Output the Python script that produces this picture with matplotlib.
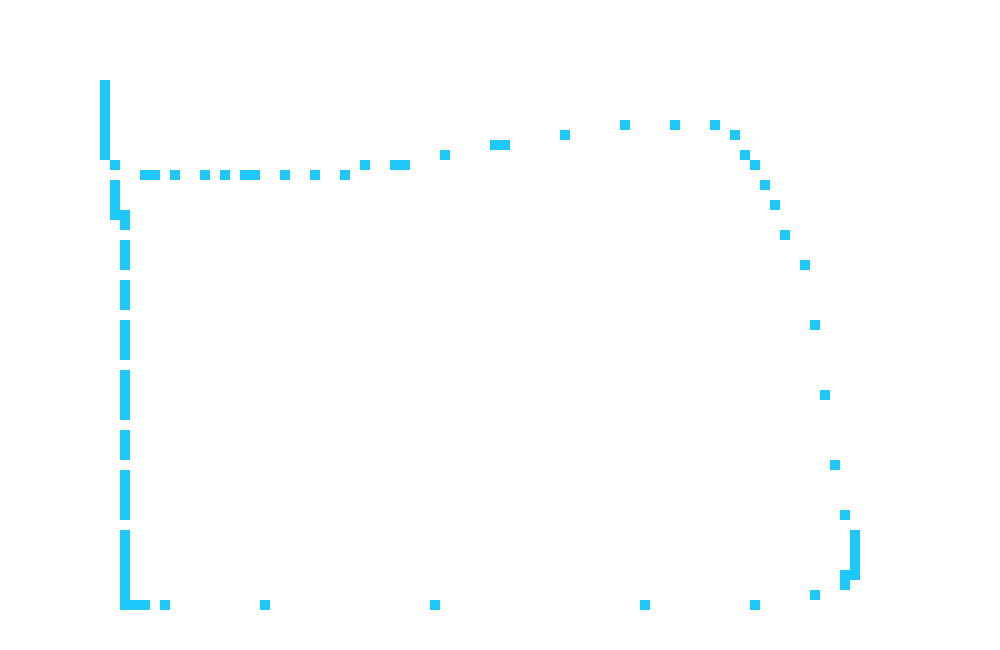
#!/usr/bin/env python3
"""
Pixel trace: filled cells on a 100 x 65 grid, drawn as a two-colour image.
"""

import numpy as np
import matplotlib
matplotlib.use('Agg')
import matplotlib.pyplot as plt
from matplotlib.colors import ListedColormap

N_COLS = 100
N_ROWS = 65
CELL_COLOR = '#1ec8fa'

# left edge, top to bottom
left_rows_12 = [21, 22, 24, 25, 26, 28, 29, 30, 32, 33, 34, 35,
                37, 38, 39, 40, 41, 43, 44, 45, 47, 48, 49, 50, 51,
                53, 54, 55, 56, 57, 58, 59, 60]
left_cols = [10] * 8 + [11] * 5 + [12] * len(left_rows_12) + [13, 14, 16]
left_rows = list(range(8, 16)) + [16, 18, 19, 20, 21] + left_rows_12 + [60, 60, 60]

# bottom edge, left to right
bottom_cols = [26, 43, 64, 75, 81]
bottom_rows = [60, 60, 60, 60, 59]

# right edge, bottom to top
right_cols = [84, 84] + [85] * 5 + [84, 83, 82, 81, 80, 78, 77, 76, 75, 74, 73, 71]
right_rows = [57, 58] + list(range(53, 58)) + [51, 46, 39, 32, 26, 23, 20, 18, 16, 15, 13, 12]

# top edge, right to left
top_cols = [67, 62, 56, 50, 49, 44, 40, 39, 36, 34, 31, 28, 25, 24, 22, 20, 17, 15, 14]
top_rows = [12, 12, 13, 14, 14, 15, 16, 16, 16, 17, 17, 17, 17, 17, 17, 17, 17, 17, 17]


def build_grid():
    grid = np.zeros((N_ROWS, N_COLS))
    cols = left_cols + bottom_cols + right_cols + top_cols
    rows = left_rows + bottom_rows + right_rows + top_rows
    assert len(cols) == len(rows)
    for c, r in zip(cols, rows):
        grid[r, c] = 1
    return grid


def main():
    grid = build_grid()

    fig = plt.figure(figsize=(10, 6.5), dpi=100)
    ax = fig.add_axes([0, 0, 1, 1])
    ax.imshow(grid, cmap=ListedColormap(['white', CELL_COLOR]),
              interpolation='nearest', aspect='auto', vmin=0, vmax=1)
    ax.axis('off')

    fig.savefig('out.png', dpi=100)


if __name__ == '__main__':
    main()
